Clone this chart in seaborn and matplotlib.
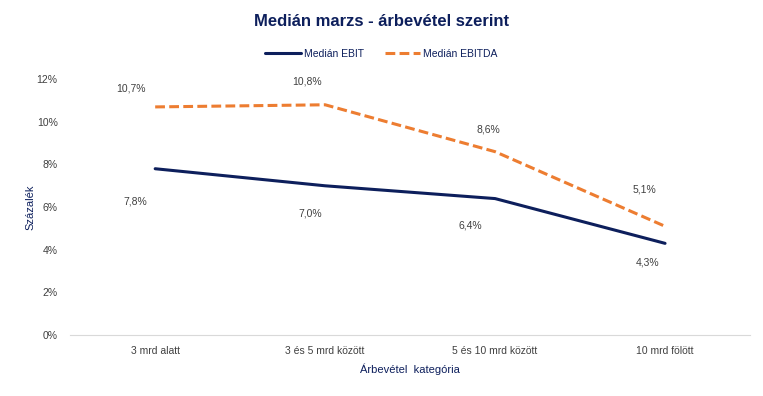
import matplotlib
matplotlib.use("Agg")
import matplotlib.pyplot as plt
import seaborn as sns
import pandas as pd
from matplotlib.ticker import FuncFormatter

categories = ["3 mrd alatt", "3 és 5 mrd között", "5 és 10 mrd között", "10 mrd fölött"]
ebit = [0.078, 0.070, 0.064, 0.043]
ebitda = [0.107, 0.108, 0.086, 0.051]
ebit_labels = ["7,8%", "7,0%", "6,4%", "4,3%"]
ebitda_labels = ["10,7%", "10,8%", "8,6%", "5,1%"]

sns.set_theme(style="white")
plt.rcParams['font.family'] = ['Liberation Sans', 'DejaVu Sans']

navy = "#0D1F5C"
orange = "#ED7D31"
txt = "#404040"

df = pd.DataFrame({
    "cat": categories * 2,
    "val": ebit + ebitda,
    "series": ["Medián EBIT"] * 4 + ["Medián EBITDA"] * 4,
})

fig = plt.figure(figsize=(7.63, 3.96), dpi=100)
ax = fig.add_axes([0.092, 0.154, 0.891, 0.646])

sns.lineplot(data=df[df.series == "Medián EBIT"], x="cat", y="val", ax=ax,
             color=navy, lw=2.2, label="Medián EBIT", sort=False)
sns.lineplot(data=df[df.series == "Medián EBITDA"], x="cat", y="val", ax=ax,
             color=orange, lw=2.2, linestyle=(0, (3.2, 1.4)), label="Medián EBITDA", sort=False)

ax.set_xlim(-0.5, 3.5)
ax.set_ylim(0, 0.12)
ax.set_yticks([0, 0.02, 0.04, 0.06, 0.08, 0.10, 0.12])
ax.yaxis.set_major_formatter(FuncFormatter(lambda v, p: f"{v*100:.0f}%"))
ax.tick_params(axis="both", labelsize=7.5, colors=txt, length=0)
ax.tick_params(axis="y", pad=9)
ax.tick_params(axis="x", pad=8)
for s in ["top", "right", "left"]:
    ax.spines[s].set_visible(False)
ax.spines["bottom"].set_color("#D9D9D9")
ax.spines["bottom"].set_linewidth(0.8)
ax.grid(False)

ax.set_xlabel("Árbevétel  kategória", fontsize=8, color=navy, labelpad=5)
ax.set_ylabel("Százalék", fontsize=8, color=navy)
ax.yaxis.set_label_coords(-0.051, 0.5)

ebit_off = [(-0.114, -0.0153), (-0.086, -0.0132), (-0.143, -0.0125), (-0.10, -0.0088)]
ebitda_off = [(-0.143, 0.0086), (-0.109, 0.0109), (-0.04, 0.0103), (-0.12, 0.0172)]
for i in range(4):
    ax.text(i + ebit_off[i][0], ebit[i] + ebit_off[i][1], ebit_labels[i],
            ha="center", va="center", fontsize=7.5, color=txt)
    ax.text(i + ebitda_off[i][0], ebitda[i] + ebitda_off[i][1], ebitda_labels[i],
            ha="center", va="center", fontsize=7.5, color=txt)

leg = ax.legend(loc="center", ncol=2, frameon=False, fontsize=7.5, handlelength=3.4,
                columnspacing=2.0, handletextpad=0.3)
leg.set_bbox_to_anchor((0.5, 1 - 54 / 396), transform=fig.transFigure)
for t in leg.get_texts():
    t.set_color(navy)

fig.text(0.5, 1 - 21 / 396, "Medián marzs - árbevétel szerint", ha="center", va="center",
         fontsize=12, fontweight="bold", color="#0D1F5C")

fig.savefig("out.png", dpi=100)
